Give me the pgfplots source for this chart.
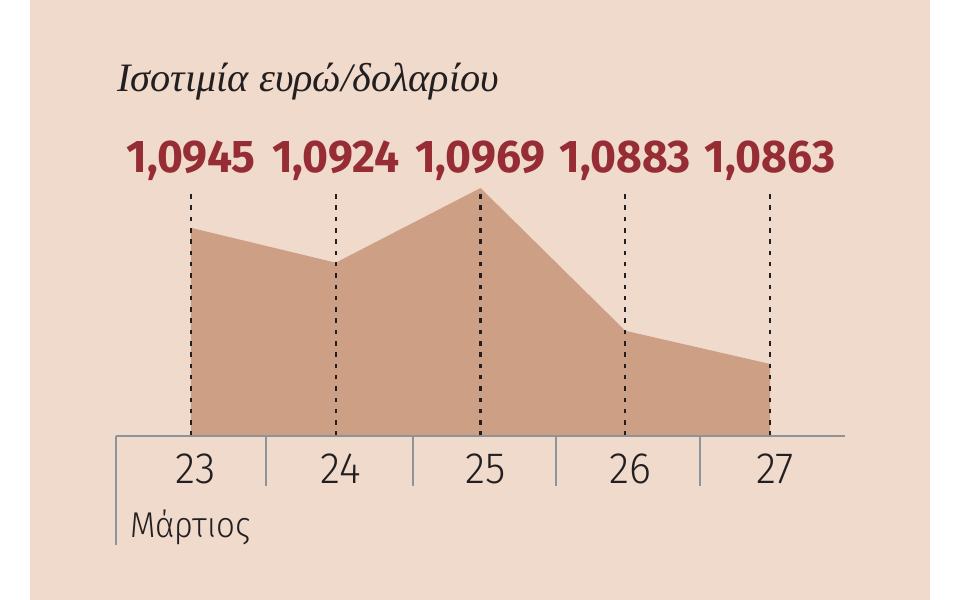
\documentclass[border=0pt]{standalone}
\usepackage{pgfplots}
\pgfplotsset{compat=1.18}
\usepackage{fontspec}
\setmainfont{Fira Sans}
\newfontfamily\titlefont{Liberation Serif}
\newfontfamily\valfont[FakeStretch=0.97]{Fira Sans}
\newfontfamily\tickfont[FakeStretch=0.95]{Fira Sans Light}
\newfontfamily\monthfont[FakeStretch=0.92]{Fira Sans Light}
\definecolor{bg}{HTML}{F0DACB}
\definecolor{area}{HTML}{CD9F85}
\definecolor{valred}{HTML}{962D35}
\definecolor{axgray}{HTML}{8F9398}
\definecolor{txt}{HTML}{231F20}
\begin{document}
\begin{tikzpicture}
\fill[white] (0bp,0bp) rectangle (960bp,600bp);
\fill[bg] (30bp,0bp) rectangle (930bp,600bp);
\node[anchor=base west, inner sep=0pt, text=txt, font=\titlefont\itshape\fontsize{40.5}{40.5}\selectfont] at (117bp,508bp) {Ισοτιμία ευρώ/δολαρίου};
\node[anchor=base west, inner sep=0pt, text=txt, font=\monthfont\fontsize{36}{36}\selectfont] at (130bp,62bp) {Μάρτιος};
\begin{axis}[at={(116bp,164bp)}, anchor=south west, scale only axis,
  width=729bp, height=248bp,
  xmin=22.482, xmax=27.518, ymin=1.08196, ymax=1.0969,
  axis x line=none, axis y line=none, clip=false]
\addplot[fill=area, draw=none] coordinates {(23,1.08196)(23,1.0945)(24,1.0924)(25,1.0969)(26,1.0883)(27,1.0863)(27,1.08196)} -- cycle;
\addplot[txt, line width=2.4bp, dash pattern=on 4.5bp off 6.8bp] coordinates {(23,1.08196)(23,1.0968)};
\addplot[txt, line width=2.4bp, dash pattern=on 4.5bp off 6.8bp] coordinates {(24,1.08196)(24,1.0968)};
\addplot[txt, line width=2.4bp, dash pattern=on 4.5bp off 6.8bp] coordinates {(25,1.08196)(25,1.0968)};
\addplot[txt, line width=2.4bp, dash pattern=on 4.5bp off 6.8bp] coordinates {(26,1.08196)(26,1.0968)};
\addplot[txt, line width=2.4bp, dash pattern=on 4.5bp off 6.8bp] coordinates {(27,1.08196)(27,1.0968)};
\addplot[axgray, line width=2bp] coordinates {(22.482,1.08196)(27.518,1.08196)};
\addplot[axgray, line width=2bp] coordinates {(22.482,1.08196)(22.482,1.07539)};
\addplot[axgray, line width=2bp] coordinates {(23.518,1.08196)(23.518,1.07895)};
\addplot[axgray, line width=2bp] coordinates {(24.534,1.08196)(24.534,1.07895)};
\addplot[axgray, line width=2bp] coordinates {(25.522,1.08196)(25.522,1.07895)};
\addplot[axgray, line width=2bp] coordinates {(26.516,1.08196)(26.516,1.07895)};
\node[anchor=base, inner sep=0pt, text=txt, font=\tickfont\fontsize{44}{44}\selectfont, xshift=5bp, yshift=-48bp] at (axis cs:23,1.08196) {23};
\node[anchor=base, inner sep=0pt, text=txt, font=\tickfont\fontsize{44}{44}\selectfont, xshift=5bp, yshift=-48bp] at (axis cs:24,1.08196) {24};
\node[anchor=base, inner sep=0pt, text=txt, font=\tickfont\fontsize{44}{44}\selectfont, xshift=5bp, yshift=-48bp] at (axis cs:25,1.08196) {25};
\node[anchor=base, inner sep=0pt, text=txt, font=\tickfont\fontsize{44}{44}\selectfont, xshift=5bp, yshift=-48bp] at (axis cs:26,1.08196) {26};
\node[anchor=base, inner sep=0pt, text=txt, font=\tickfont\fontsize{44}{44}\selectfont, xshift=5bp, yshift=-48bp] at (axis cs:27,1.08196) {27};
\node[anchor=base, inner sep=0pt, text=valred, font=\valfont\bfseries\fontsize{46}{46}\selectfont, yshift=15bp] at (axis cs:23,1.0969) {1,0945};
\node[anchor=base, inner sep=0pt, text=valred, font=\valfont\bfseries\fontsize{46}{46}\selectfont, yshift=15bp] at (axis cs:24,1.0969) {1,0924};
\node[anchor=base, inner sep=0pt, text=valred, font=\valfont\bfseries\fontsize{46}{46}\selectfont, yshift=15bp] at (axis cs:25,1.0969) {1,0969};
\node[anchor=base, inner sep=0pt, text=valred, font=\valfont\bfseries\fontsize{46}{46}\selectfont, yshift=15bp] at (axis cs:26,1.0969) {1,0883};
\node[anchor=base, inner sep=0pt, text=valred, font=\valfont\bfseries\fontsize{46}{46}\selectfont, yshift=15bp] at (axis cs:27,1.0969) {1,0863};
\end{axis}
\end{tikzpicture}
\end{document}
